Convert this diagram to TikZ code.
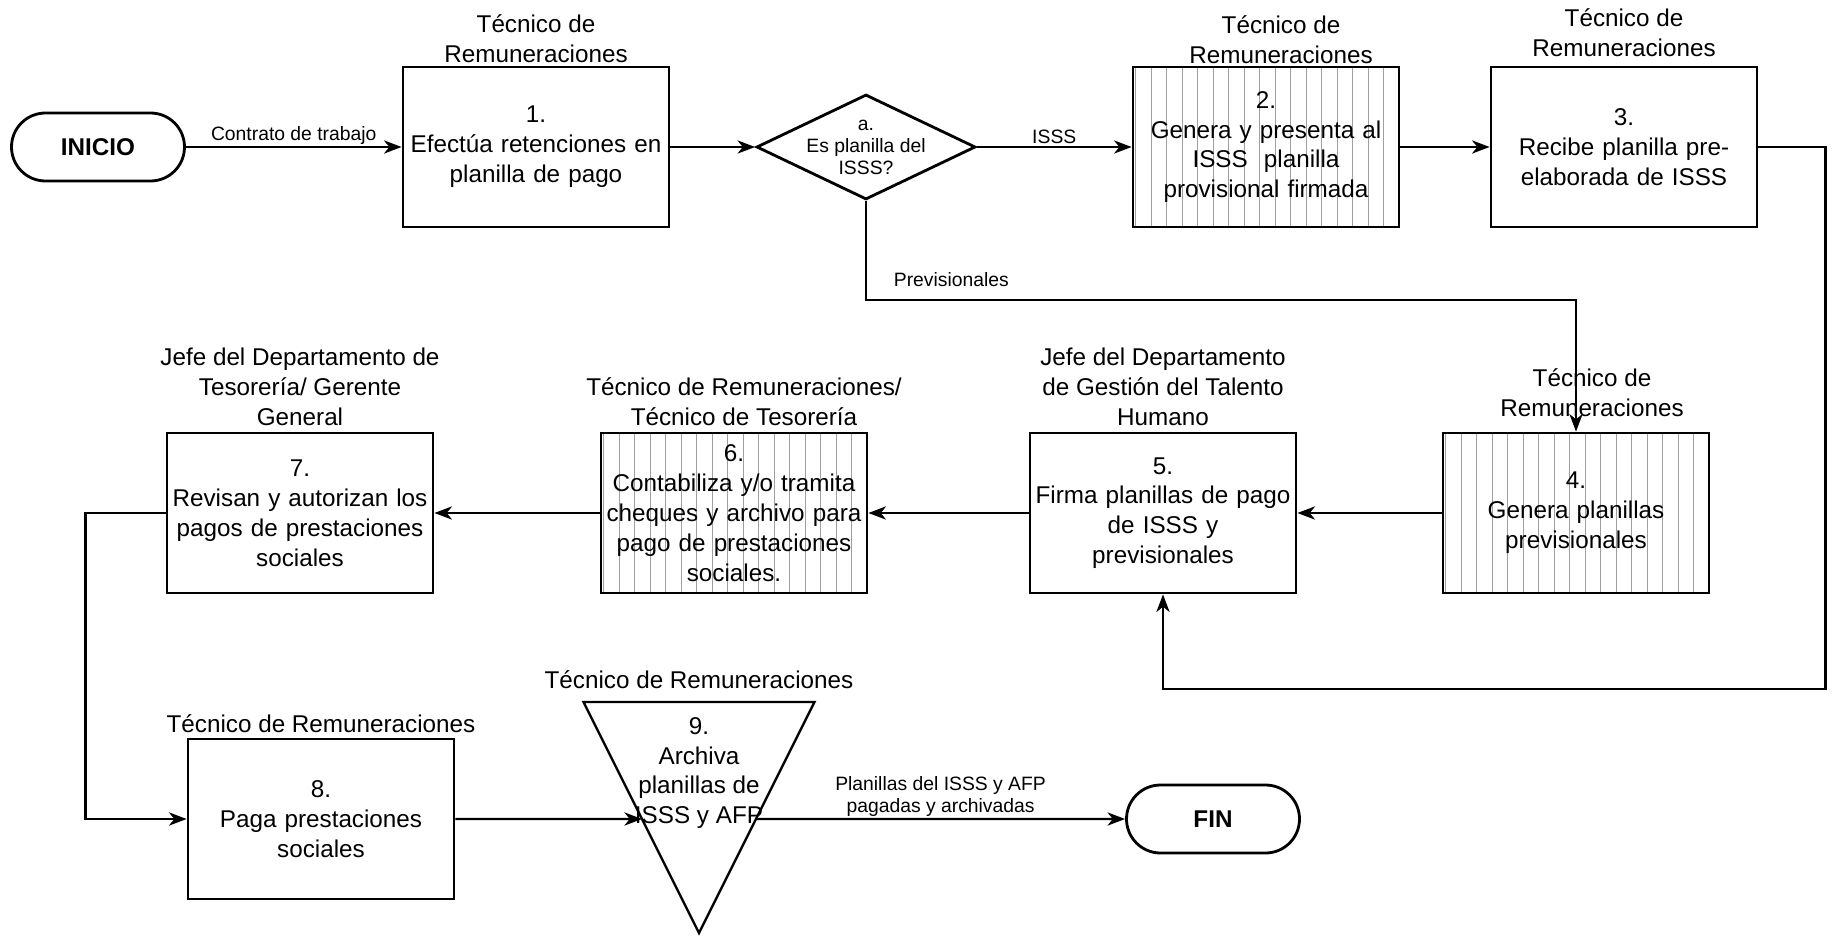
\documentclass[tikz,border=0pt]{standalone}
\usepackage{fontspec}
\setmainfont{Liberation Sans}
\usepackage{tikz}
\usetikzlibrary{shapes.geometric, arrows, arrows.meta, positioning}
\tikzstyle{arrow} = [line width=1.3pt,-{Stealth[length=10pt, width=7.5pt, inset=3pt]}]
\tikzstyle{process} = [rectangle, draw=black, line width=1.6pt, minimum width=5.32cm, minimum height=3.2cm, text width=5.2cm, inner sep=0pt, align=center, font=\fontsize{13.8pt}{17pt}\selectfont]
\tikzstyle{hatched} = [process, path picture={\foreach \k in {0,...,16} \draw [gray!75, line width=0.7pt] ([xshift=0.055cm+\k*0.31cm]path picture bounding box.south west) -- ([xshift=0.055cm+\k*0.31cm]path picture bounding box.north west);}]
\tikzstyle{terminal} = [rectangle, rounded corners=0.68cm, draw=black, line width=1.6pt, minimum width=3.46cm, minimum height=1.36cm, font=\fontsize{13.8pt}{17pt}\selectfont\bfseries]
\tikzstyle{decision} = [diamond, draw=black, line width=1.6pt, aspect=2.09, minimum width=4.38cm, minimum height=2.1cm, inner sep=-0.15cm, align=center, font=\fontsize{11pt}{12.5pt}\selectfont]
\tikzstyle{archive} = [align=center, inner sep=0pt, font=\fontsize{13.8pt}{17pt}\selectfont]
\tikzstyle{archshape} = [draw=black, line width=1.3pt, line join=miter]
\tikzstyle{role} = [align=center, inner sep=0pt, font=\fontsize{13.8pt}{17pt}\selectfont]
\tikzstyle{lbl} = [align=center, inner sep=1pt, font=\fontsize{11pt}{12.5pt}\selectfont]

\begin{document}
\begin{tikzpicture}[node distance=8cm]
\useasboundingbox (-1.96,2.94) rectangle (34.7,-15.82);

% Top row
\node (inicio) [terminal] {INICIO};
\node (n1) [process, right of=inicio, xshift=0.76cm] {1.\\Efectúa retenciones en\\planilla de pago};
\node (dec) [decision, right of=n1, xshift=-1.4cm] {a.\\Es planilla del\\ISSS?};
\node (n2) [hatched, right of=dec] {2.\\Genera y presenta al\\ISSS\ \ planilla\\provisional firmada};
\node (n3) [process, right of=n2, xshift=-0.84cm] {3.\\Recibe planilla pre-\\elaborada de ISSS};

% Middle row
\node (n4) [hatched, below of=n3, xshift=-0.96cm, yshift=0.68cm] {4.\\Genera planillas\\previsionales};
\node (n5) [process, left of=n4, xshift=-0.26cm] {5.\\Firma planillas de pago\\de ISSS y\\previsionales};
\node (n6) [hatched, left of=n5, xshift=-0.58cm] {6.\\Contabiliza y/o tramita\\cheques y archivo para\\pago de prestaciones\\sociales.};
\node (n7) [process, left of=n6, xshift=-0.68cm] {7.\\Revisan y autorizan los\\pagos de prestaciones\\sociales};

% Bottom row
\node (n8) [process, below of=n7, xshift=0.42cm, yshift=1.88cm] {8.\\Paga prestaciones\\sociales};
\node (n9) [archive, right of=n8, xshift=-0.44cm, yshift=0.92cm] {9.\\Archiva\\planillas de\\ISSS y AFP};
\draw [archshape] ([shift={(-2.31,1.42)}]n9.center) -- ([shift={(2.31,1.42)}]n9.center) -- ([shift={(0,-3.2)}]n9.center) -- cycle;
\coordinate (n9in) at ([shift={(-1.14,-0.92)}]n9.center);
\coordinate (n9out) at ([shift={(1.14,-0.92)}]n9.center);
\node (fin) [terminal, right of=n8, xshift=9.84cm] {FIN};

% Responsables
\node (r1) [role, above=0.05cm of n1] {Técnico de\\Remuneraciones};
\node (r2) [role, above=0.03cm of n2, xshift=0.3cm] {Técnico de\\Remuneraciones};
\node (r3) [role, above=0.17cm of n3] {Técnico de\\Remuneraciones};
\node (r4) [role, above=0.3cm of n4, xshift=0.32cm] {Técnico de\\Remuneraciones};
\node (r5) [role, above=0.11cm of n5] {Jefe del Departamento\\de Gestión del Talento\\Humano};
\node (r6) [role, above=0.11cm of n6, xshift=0.2cm] {Técnico de Remuneraciones/\\Técnico de Tesorería};
\node (r7) [role, above=0.11cm of n7] {Jefe del Departamento de\\Tesorería/ Gerente\\General};
\node (r8) [role, above=0.1cm of n8] {Técnico de Remuneraciones};
\node (r9) [role, anchor=south] at ([yshift=1.68cm]n9.center) {Técnico de Remuneraciones};

% Flujo
\draw [arrow] (inicio) -- node[lbl, above] {Contrato de trabajo} (n1);
\draw [arrow] (n1) -- (dec);
\draw [arrow] (dec) -- node[lbl, above] {ISSS} (n2);
\draw [arrow] (n2) -- (n3);
\draw [arrow] (dec.south) -- ++(0,-1.98) node[lbl, anchor=south west, xshift=0.5cm, yshift=0.2cm] {Previsionales} -| (n4.north);
\draw [arrow] (n3.east) -- ++(1.34,0) -- ++(0,-10.84) -| (n5.south);
\draw [arrow] (n4) -- (n5);
\draw [arrow] (n5) -- (n6);
\draw [arrow] (n6) -- (n7);
\draw [arrow] (n7.west) -- ++(-1.6,0) |- (n8.west);
\draw [arrow] (n8) -- (n9in);
\draw [arrow] (n9out) -- node[lbl, above] {Planillas del ISSS y AFP\\pagadas y archivadas} (fin);

\end{tikzpicture}
\end{document}
